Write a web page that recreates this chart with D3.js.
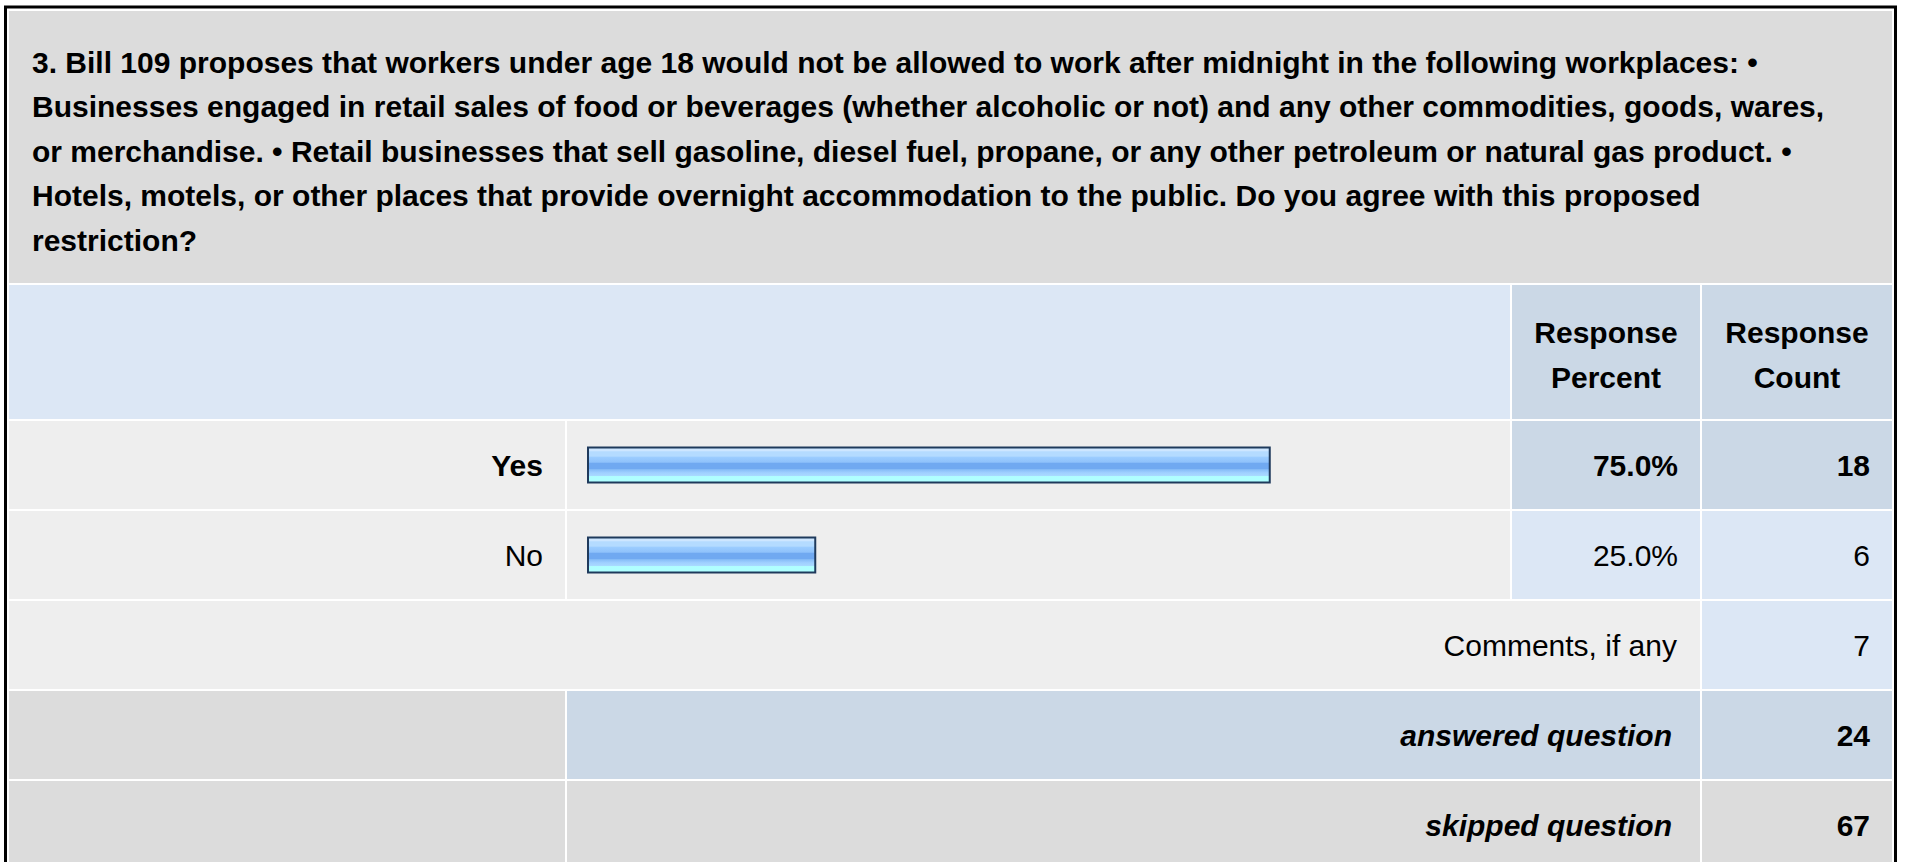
<!DOCTYPE html>
<html>
<head>
<meta charset="utf-8">
<script src="https://cdn.jsdelivr.net/npm/d3@7"></script>
<style>
  html, body { margin: 0; padding: 0; background: #ffffff; overflow: hidden; }
  svg { display: block; font-family: "Liberation Sans", Arial, Helvetica, sans-serif; }
</style>
</head>
<body>
<svg id="chart" width="1905" height="862"></svg>
<script>
// ---- data ----
const titleLines = [
  "3. Bill 109 proposes that workers under age 18 would not be allowed to work after midnight in the following workplaces: \u2022",
  "Businesses engaged in retail sales of food or beverages (whether alcoholic or not) and any other commodities, goods, wares,",
  "or merchandise. \u2022 Retail businesses that sell gasoline, diesel fuel, propane, or any other petroleum or natural gas product. \u2022",
  "Hotels, motels, or other places that provide overnight accommodation to the public. Do you agree with this proposed",
  "restriction?"
];
const headerPercent = ["Response", "Percent"];
const headerCount = ["Response", "Count"];
const categories = ["Yes", "No"];
const percents = [75.0, 25.0];
const counts = [18, 6];
const commentsLabel = "Comments, if any";
const commentsCount = 7;
const summaryLabels = ["answered question", "skipped question"];
const summaryCounts = [24, 67];

// ---- layout ----
const svg = d3.select("#chart");
const FS = 30;
const colX = [9, 567, 1512, 1702, 1892]; // column edges
const gap = 2;
const C = {
  titleBg: "#dcdcdc", rowGray: "#eeeeee", lightBlue: "#dce7f5",
  blueGray: "#cbd8e6", sumGray: "#dcdcdc", text: "#000000"
};

// outer border
svg.append("rect").attr("x", 5.5).attr("y", 7).attr("width", 1890).attr("height", 870)
  .attr("fill", "#ffffff").attr("stroke", "#000").attr("stroke-width", 3);

// title block
svg.append("rect").attr("x", colX[0]).attr("y", 11).attr("width", colX[4] - colX[0]).attr("height", 272)
  .attr("fill", C.titleBg);
svg.append("g").selectAll("text").data(titleLines).join("text")
  .attr("x", 32).attr("y", (d, i) => 62 + i * 44.5 + FS * 0.36)
  .attr("font-size", FS).attr("font-weight", "bold").attr("fill", C.text)
  .text(d => d);

// header row
const hdrTop = 285, hdrBot = 419;
function cell(x0, x1, y0, y1, fill) {
  svg.append("rect").attr("x", x0).attr("y", y0).attr("width", x1 - x0).attr("height", y1 - y0).attr("fill", fill);
}
cell(colX[0], colX[2] - gap, hdrTop, hdrBot, C.lightBlue);
cell(colX[2], colX[3] - gap, hdrTop, hdrBot, C.blueGray);
cell(colX[3], colX[4], hdrTop, hdrBot, C.blueGray);
[[headerPercent, (colX[2] + colX[3] - gap) / 2], [headerCount, (colX[3] + colX[4]) / 2]].forEach(([lines, cx]) => {
  svg.append("g").selectAll("text").data(lines).join("text")
    .attr("x", cx).attr("y", (d, i) => 332 + i * 45 + FS * 0.36)
    .attr("text-anchor", "middle").attr("font-size", FS).attr("font-weight", "bold").attr("fill", C.text)
    .text(d => d);
});

// category rows
const y = d3.scaleBand().domain(categories).range([420, 600]).paddingInner(0).paddingOuter(0);
const x = d3.scaleLinear().domain([0, 100]).range([588, 1497]);
const rowsData = categories.map((c, i) => ({ c, p: percents[i], n: counts[i], bold: i === 0 }));

const rows = svg.append("g").selectAll("g").data(rowsData).join("g");
rows.append("rect").attr("x", colX[0]).attr("y", d => y(d.c) + 1).attr("width", colX[1] - gap - colX[0]).attr("height", y.bandwidth() - gap).attr("fill", C.rowGray);
rows.append("rect").attr("x", colX[1]).attr("y", d => y(d.c) + 1).attr("width", colX[2] - gap - colX[1]).attr("height", y.bandwidth() - gap).attr("fill", C.rowGray);
rows.append("rect").attr("x", colX[2]).attr("y", d => y(d.c) + 1).attr("width", colX[3] - gap - colX[2]).attr("height", y.bandwidth() - gap).attr("fill", d => d.bold ? C.blueGray : C.lightBlue);
rows.append("rect").attr("x", colX[3]).attr("y", d => y(d.c) + 1).attr("width", colX[4] - colX[3]).attr("height", y.bandwidth() - gap).attr("fill", d => d.bold ? C.blueGray : C.lightBlue);

// bar gradient
const defs = svg.append("defs");
const grad = defs.append("linearGradient").attr("id", "barGrad").attr("x1", 0).attr("y1", 0).attr("x2", 0).attr("y2", 1);
[[0, "#cde6ff"], [0.1, "#cde6ff"], [0.12, "#b4dbff"], [0.25, "#b4dbff"], [0.27, "#9ccdff"], [0.42, "#8fc2fb"],
 [0.45, "#70a9f1"], [0.6, "#70a9f1"], [0.63, "#86bcf7"], [0.72, "#9fd0ff"], [0.8, "#a8d9ff"], [0.83, "#b0ffff"], [1, "#b0ffff"]]
  .forEach(([o, c]) => grad.append("stop").attr("offset", o).attr("stop-color", c));

const barH = 35;
rows.append("rect")
  .attr("x", x(0)).attr("y", d => y(d.c) + y.bandwidth() / 2 - barH / 2)
  .attr("width", d => x(d.p) - x(0)).attr("height", barH)
  .attr("fill", "url(#barGrad)").attr("stroke", "#1f3a5c").attr("stroke-width", 2);

const txtY = d => y(d.c) + y.bandwidth() / 2 + FS * 0.36;
rows.append("text").attr("x", 543).attr("y", txtY).attr("text-anchor", "end")
  .attr("font-size", FS).attr("font-weight", d => d.bold ? "bold" : "normal").text(d => d.c);
rows.append("text").attr("x", 1678).attr("y", txtY).attr("text-anchor", "end")
  .attr("font-size", FS).attr("font-weight", d => d.bold ? "bold" : "normal").text(d => d.p.toFixed(1) + "%");
rows.append("text").attr("x", 1870).attr("y", txtY).attr("text-anchor", "end")
  .attr("font-size", FS).attr("font-weight", d => d.bold ? "bold" : "normal").text(d => d.n);

// comments row
const cTop = 601, cBot = 689;
cell(colX[0], colX[3] - gap, cTop, cBot, C.rowGray);
cell(colX[3], colX[4], cTop, cBot, C.lightBlue);
svg.append("text").attr("x", 1677).attr("y", (cTop + cBot) / 2 + FS * 0.36).attr("text-anchor", "end")
  .attr("font-size", FS).text(commentsLabel);
svg.append("text").attr("x", 1870).attr("y", (cTop + cBot) / 2 + FS * 0.36).attr("text-anchor", "end")
  .attr("font-size", FS).text(commentsCount);

// summary rows
const sy = d3.scaleBand().domain(summaryLabels).range([690, 870]);
const sRows = svg.append("g").selectAll("g").data(summaryLabels.map((l, i) => ({ l, n: summaryCounts[i], i }))).join("g");
sRows.append("rect").attr("x", colX[0]).attr("y", d => sy(d.l) + 1).attr("width", colX[1] - gap - colX[0]).attr("height", sy.bandwidth() - gap).attr("fill", C.sumGray);
sRows.append("rect").attr("x", colX[1]).attr("y", d => sy(d.l) + 1).attr("width", colX[3] - gap - colX[1]).attr("height", sy.bandwidth() - gap).attr("fill", d => d.i === 0 ? C.blueGray : C.sumGray);
sRows.append("rect").attr("x", colX[3]).attr("y", d => sy(d.l) + 1).attr("width", colX[4] - colX[3]).attr("height", sy.bandwidth() - gap).attr("fill", d => d.i === 0 ? C.blueGray : C.sumGray);
const sTxtY = d => sy(d.l) + sy.bandwidth() / 2 + FS * 0.36;
sRows.append("text").attr("x", 1672).attr("y", sTxtY).attr("text-anchor", "end")
  .attr("font-size", FS).attr("font-weight", "bold").attr("font-style", "italic").text(d => d.l);
sRows.append("text").attr("x", 1870).attr("y", sTxtY).attr("text-anchor", "end")
  .attr("font-size", FS).attr("font-weight", "bold").text(d => d.n);
</script>
</body>
</html>
